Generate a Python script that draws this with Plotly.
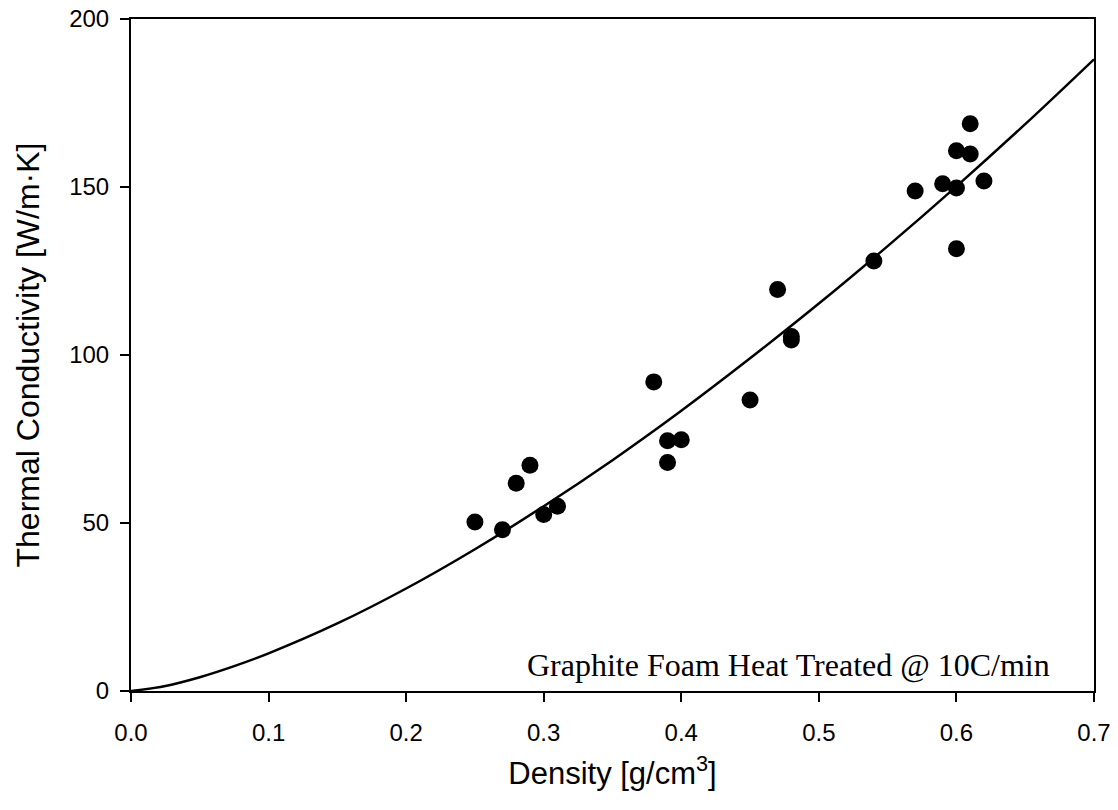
import plotly.graph_objects as go

# Measured data points (density g/cm3, thermal conductivity W/m·K)
density = [0.25, 0.27, 0.28, 0.29, 0.30, 0.31, 0.38, 0.39, 0.39, 0.40, 0.45,
           0.47, 0.48, 0.48, 0.54, 0.57, 0.59, 0.60, 0.60, 0.60, 0.61, 0.61, 0.62]
conductivity = [50.3, 48.0, 61.8, 67.2, 52.5, 55.0, 92.0, 74.5, 68.0, 74.8, 86.6,
                119.5, 105.5, 104.5, 128.0, 148.8, 151.0, 160.8, 149.7, 131.6, 168.8, 159.8, 151.8]

# Fitted curve
fit_x = [0.0, 0.025, 0.05, 0.075, 0.1, 0.15, 0.2, 0.25, 0.3, 0.35, 0.4,
         0.45, 0.5, 0.55, 0.6, 0.65, 0.7]
fit_y = [0.0, 1.5, 4.1, 7.4, 11.2, 20.1, 30.5, 42.2, 55.0, 68.7, 83.4,
         99.0, 115.3, 132.4, 150.2, 168.7, 188.0]

x_ticks = [0.0, 0.1, 0.2, 0.3, 0.4, 0.5, 0.6, 0.7]
y_ticks = [0, 50, 100, 150, 200]

fig = go.Figure()
fig.add_trace(go.Scatter(x=fit_x, y=fit_y, mode="lines", line=dict(color="black", width=2.5, shape="spline"),
                         showlegend=False, hoverinfo="skip", cliponaxis=False))
fig.add_trace(go.Scatter(x=density, y=conductivity, mode="markers",
                         marker=dict(color="black", size=17), showlegend=False))

fig.add_annotation(text="Graphite Foam Heat Treated @ 10C/min", xref="x", yref="y",
                   x=0.6695, y=7.7, xanchor="right", yanchor="middle", showarrow=False,
                   font=dict(family="Liberation Serif, Times New Roman, serif", size=32, color="black"))

axis_font = dict(family="Liberation Sans, Arial, sans-serif", size=24, color="black")

fig.update_xaxes(range=[0, 0.7], tickvals=x_ticks, ticktext=[f"{v:.1f}" for v in x_ticks],
                 ticks="outside", ticklen=9, tickwidth=1.5, tickcolor="black",
                 ticklabelstandoff=10, ticklabeloverflow="allow", automargin=False,
                 showline=True, linecolor="black", linewidth=2, mirror=True,
                 showgrid=False, zeroline=False, tickfont=axis_font,
                 title=dict(text="Density [g/cm<sup>3</sup>]",
                            font=dict(family="Liberation Sans, Arial, sans-serif", size=31, color="black"),
                            standoff=18))
fig.update_yaxes(range=[0, 200], tickvals=y_ticks,
                 ticks="outside", ticklen=9, tickwidth=1.5, tickcolor="black",
                 ticklabelstandoff=6, ticklabeloverflow="allow", automargin=False,
                 showline=True, linecolor="black", linewidth=2, mirror=True,
                 showgrid=False, zeroline=False, tickfont=axis_font,
                 title=dict(text="Thermal Conductivity [W/m·K]",
                            font=dict(family="Liberation Sans, Arial, sans-serif", size=32, color="black"),
                            standoff=20))

fig.update_layout(width=1102, height=794, plot_bgcolor="white", paper_bgcolor="white",
                  margin=dict(l=123, r=16, t=11, b=111, autoexpand=False))

fig.write_html("out.html")
